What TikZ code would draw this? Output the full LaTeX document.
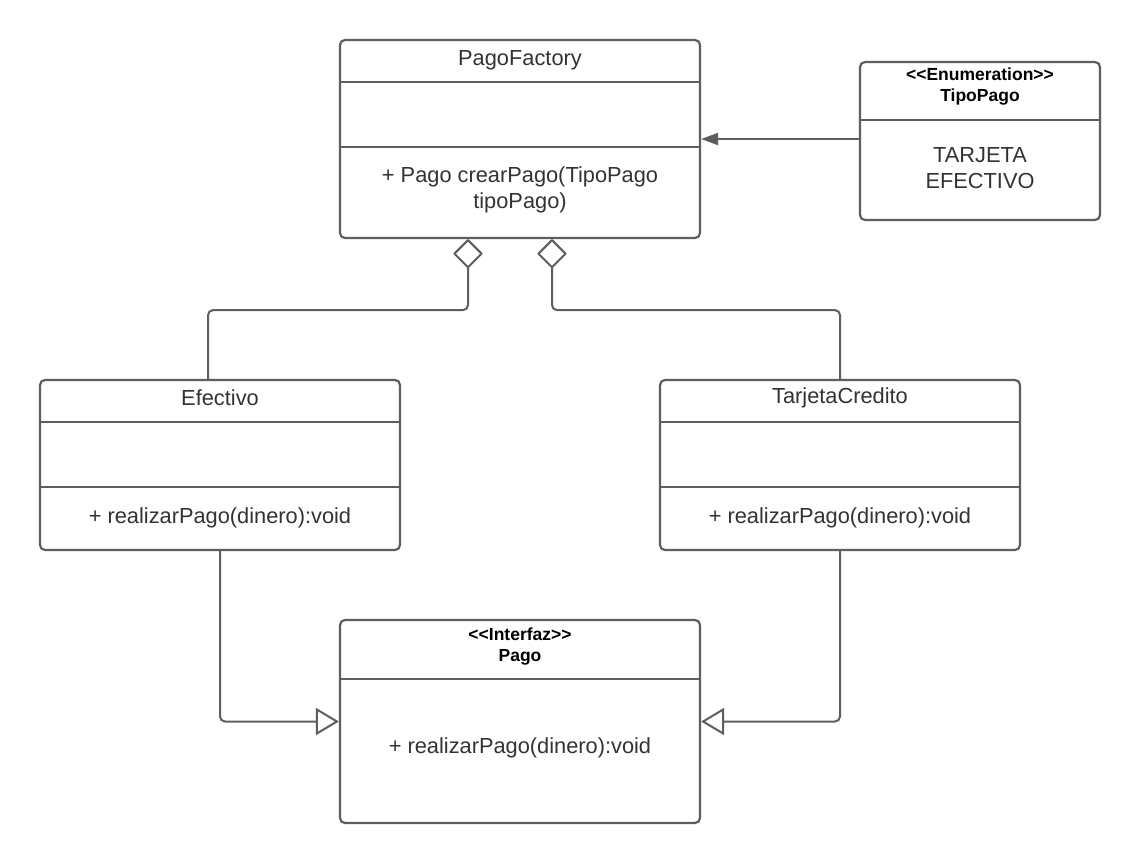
\documentclass[tikz,border=0pt]{standalone}
\usepackage{fontspec}
\setmainfont{Liberation Sans}
\usetikzlibrary{arrows.meta,calc}
\definecolor{linec}{HTML}{5E5E5E}
\definecolor{txtc}{HTML}{333333}
\tikzset{
  classbox/.style={draw=linec, line width=2.2pt, rounded corners=5pt, fill=white, inner sep=0pt},
  divider/.style={draw=linec, line width=2.2pt},
  lbl/.style={text=txtc, font=\fontsize{21.8}{26}\selectfont, inner sep=0pt, align=center},
  stereo/.style={text=black, font=\fontsize{17.5}{21}\selectfont\bfseries, inner sep=0pt, align=center},
  conn/.style={draw=linec, line width=2pt, rounded corners=5pt},
  assoc/.style={conn, -{Triangle[length=17pt,width=12pt]}},
  agg/.style={conn, {Diamond[open,fill=white,length=30pt,width=30pt,round]}-},
  gen/.style={conn, -{Triangle[open,fill=white,length=23pt,width=27pt]}}
}
\begin{document}
\begin{tikzpicture}[x=1pt,y=-1pt]
\useasboundingbox[fill=white] (0,0) rectangle (1140,863);
% boxes
\node[classbox, minimum width=360pt, minimum height=198pt] (pf) at (520,139) {};
\node[classbox, minimum width=240pt, minimum height=158pt] (tp) at (980,141) {};
\node[classbox, minimum width=360pt, minimum height=170pt] (ef) at (220,465) {};
\node[classbox, minimum width=360pt, minimum height=170pt] (tc) at (840,465) {};
\node[classbox, minimum width=360pt, minimum height=203pt] (pg) at (520,721.5) {};
% dividers
\draw[divider] (pf.west |- 0,82) -- (pf.east |- 0,82);
\draw[divider] (pf.west |- 0,147) -- (pf.east |- 0,147);
\draw[divider] (tp.west |- 0,120) -- (tp.east |- 0,120);
\draw[divider] (ef.west |- 0,422) -- (ef.east |- 0,422);
\draw[divider] (ef.west |- 0,487) -- (ef.east |- 0,487);
\draw[divider] (tc.west |- 0,422) -- (tc.east |- 0,422);
\draw[divider] (tc.west |- 0,487) -- (tc.east |- 0,487);
\draw[divider] (pg.west |- 0,679) -- (pg.east |- 0,679);
% texts
\node[lbl] (pft) at (520,60) {PagoFactory};
\node[lbl] (pfm) at (520,190) {+ Pago crearPago(TipoPago\\tipoPago)};
\node[stereo] (tps) at (980,87) {<{}<Enumeration>{}>\\TipoPago};
\node[lbl] (tpv) at (980,168) {TARJETA\\EFECTIVO};
\node[lbl] (eft) at (220,398) {Efectivo};
\node[lbl] (efm) at (220,518) {+ realizarPago(dinero):void};
\node[lbl] (tct) at (840,398) {TarjetaCredito};
\node[lbl] (tcm) at (840,518) {+ realizarPago(dinero):void};
\node[stereo] (pgs) at (520,647) {<{}<Interfaz>{}>\\Pago};
\node[lbl] (pgm) at (520,748) {+ realizarPago(dinero):void};
% connectors
\draw[assoc] (tp.west |- 0,139) -- (pf.east |- 0,139);
\draw[agg] ([xshift=-52pt]pf.south) -- ++(0,71) -| ([xshift=-12pt]ef.north);
\draw[agg] ([xshift=32pt]pf.south) -- ++(0,71) -| (tc.north);
\draw[gen] (ef.south) |- (pg.west);
\draw[gen] (tc.south) |- (pg.east);
\end{tikzpicture}
\end{document}
